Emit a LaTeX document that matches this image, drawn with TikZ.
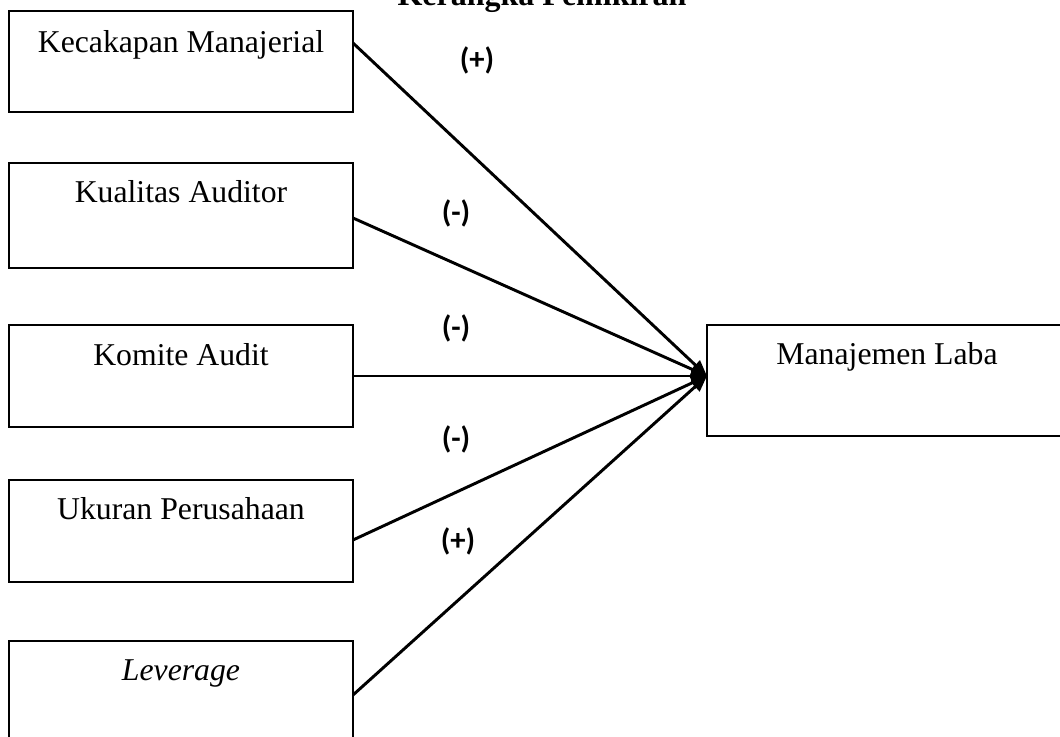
\documentclass[tikz,border=0pt]{standalone}
\usepackage{fontspec}
\setmainfont{Liberation Serif}
\newfontfamily\calibfont{Carlito}
\usetikzlibrary{arrows.meta}
\def\u{0.75pt}
\tikzset{
  box/.style={draw=black, line width=1.1pt, rectangle, inner sep=0pt, outer sep=0pt, anchor=north west},
  lab/.style={anchor=base, inner sep=0pt, font=\fontsize{23.8}{28}\selectfont},
  sign/.style={inner sep=0pt, font=\calibfont\bfseries\fontsize{23}{27}\selectfont},
  conn/.style={line width=2.2pt, -{Triangle[length=12pt, width=9.5pt]}, shorten >=0pt}
}
\begin{document}
\begin{tikzpicture}[x=0.75pt, y=-0.75pt]
\useasboundingbox (0,0) rectangle (1060,737);
\clip (0,0) rectangle (1060,737);
% title (cut off at top, as in the reference)
\node[anchor=base, inner sep=0pt, font=\bfseries\fontsize{24}{28}\selectfont] (title) at (542,6) {Kerangka Pemikiran};
% boxes
\node[box, minimum width=344*\u, minimum height=101*\u] (b1) at (9,11) {};
\node[box, minimum width=344*\u, minimum height=105*\u] (b2) at (9,163) {};
\node[box, minimum width=344*\u, minimum height=102*\u] (b3) at (9,325) {};
\node[box, minimum width=344*\u, minimum height=102*\u] (b4) at (9,480) {};
\node[box, minimum width=344*\u, minimum height=125*\u] (b5) at (9,641) {};
\node[box, minimum width=360*\u, minimum height=111*\u] (b6) at (707,325) {};
% texts
\node[lab] (t1) at ([yshift=-42*\u]b1.north) {Kecakapan Manajerial};
\node[lab] (t2) at ([yshift=-40*\u]b2.north) {Kualitas Auditor};
\node[lab] (t3) at ([yshift=-41*\u]b3.north) {Komite Audit};
\node[lab] (t4) at ([yshift=-40*\u]b4.north) {Ukuran Perusahaan};
\node[lab] (t5) at ([yshift=-39*\u]b5.north) {\itshape Leverage};
\node[lab] (t6) at ([yshift=-40*\u]b6.north) {Manajemen Laba};
% tip
\coordinate (tip) at (b6.west |- b3.east);
% connectors
\draw[conn] ([yshift=-32*\u]b1.north east) -- (tip);
\draw[conn] ([yshift=-55*\u]b2.north east) -- (tip);
\draw[conn] (b3.east) -- (tip);
\draw[conn] ([yshift=-60*\u]b4.north east) -- (tip);
\draw[conn] ([yshift=-54*\u]b5.north east) -- (tip);
% signs
\node[sign] (s1) at (477,60) {(+)};
\node[sign] (s2) at (456,213) {(-)};
\node[sign] (s3) at (456,328) {(-)};
\node[sign] (s4) at (456,439) {(-)};
\node[sign] (s5) at (458,541) {(+)};
\end{tikzpicture}
\end{document}
